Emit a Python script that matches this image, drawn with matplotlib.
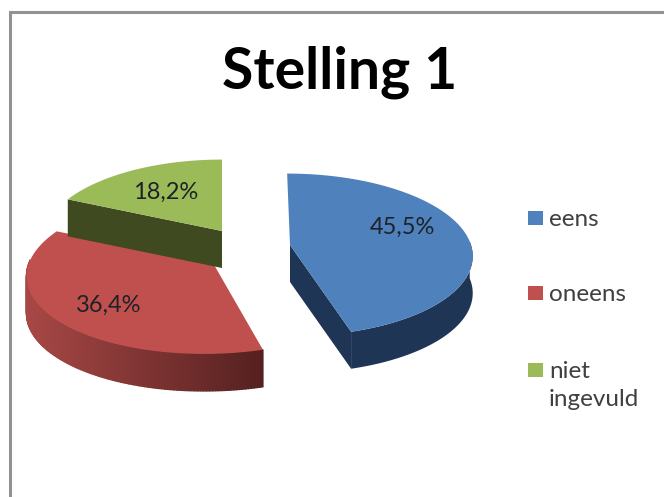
import numpy as np
import matplotlib
matplotlib.use('Agg')
import matplotlib.pyplot as plt
from matplotlib.patches import Polygon, Rectangle

plt.rcParams['font.family'] = ['Lato', 'DejaVu Sans']

# chart data
title = 'Stelling 1'
categories = ['eens', 'oneens', 'niet\ningevuld']
percentages = [45.5, 36.4, 18.2]
value_labels = ['45,5%', '36,4%', '18,2%']

top_colors = ['#4F81BD', '#C0504D', '#9BBB59']
wall_colors = ['#1F3556', '#A54644', '#3F4A20']

# layout, in image pixels
APEX = [(290, 245), (213, 263), (222, 231)]
RX = [181, 184, 178]
SKEW = [0.04, -0.1, 0.0]
LABEL_POS = [(402, 227), (109, 305), (166, 192)]
LEGEND_Y = [218, 293, 370]
DEPTH = 37
RY, PERSP = 80, 0.12


def project(i, theta):
    # theta in radians, clockwise from 12 o'clock
    u, v = np.sin(theta), np.cos(theta)
    w = 1 + PERSP * v
    dy = -RY * v / w
    return APEX[i][0] + RX[i] * u / w + SKEW[i] * dy, APEX[i][1] + dy


def draw_slice(ax, i, start, end):
    apex = APEX[i]
    thetas = np.linspace(start, end, 160)
    xs, ys = project(i, thetas)
    zo = 3 if i == 0 else 2 + i * 0.1

    # only the front part of the rim can be seen
    front = np.cos(thetas) < 0.05
    fx, fy = xs[front], ys[front]
    if i == 1:
        # red wall goes from lighter on the left to almost brown on the right
        c0 = np.array(matplotlib.colors.to_rgb('#A84846'))
        c1 = np.array(matplotlib.colors.to_rgb('#552120'))
        for k in range(len(fx) - 1):
            quad = [(fx[k], fy[k]), (fx[k + 1], fy[k + 1]),
                    (fx[k + 1], fy[k + 1] + DEPTH), (fx[k], fy[k] + DEPTH)]
            t = np.clip((fx[k] - 25) / (263 - 25), 0, 1)
            color = tuple(c0 + (c1 - c0) * t)
            ax.add_patch(Polygon(quad, closed=True, facecolor=color, edgecolor=color, lw=1.0, zorder=zo))
    elif len(fx) > 1:
        wall = list(zip(fx, fy)) + list(zip(fx[::-1], fy[::-1] + DEPTH))
        ax.add_patch(Polygon(wall, closed=True, facecolor=wall_colors[i], edgecolor='none', zorder=zo))

    # cut faces that look towards the viewer
    if i == 0:
        face = [apex, (xs[-1], ys[-1]), (xs[-1], ys[-1] + DEPTH), (apex[0], apex[1] + DEPTH)]
        ax.add_patch(Polygon(face, closed=True, facecolor=wall_colors[0], edgecolor='none', zorder=zo))
    if i == 2:
        face = [apex, (xs[0], ys[0]), (xs[0], ys[0] + DEPTH), (apex[0], apex[1] + DEPTH)]
        ax.add_patch(Polygon(face, closed=True, facecolor=wall_colors[2], edgecolor='none', zorder=zo))

    top = [apex] + list(zip(xs, ys))
    ax.add_patch(Polygon(top, closed=True, facecolor=top_colors[i], edgecolor='none', zorder=zo + 0.05))


fig = plt.figure(figsize=(6.64, 4.97), dpi=100)
ax = fig.add_axes([0, 0, 1, 1])
ax.set_xlim(0, 664)
ax.set_ylim(497, 0)
ax.axis('off')

# chart frame, only left and top are visible in the image
ax.plot([10, 10, 664], [497, 11.5, 11.5], color='#929292', lw=2.2, solid_joinstyle='miter')

ax.text(340, 72, title, fontsize=41, fontweight='bold', color='black', ha='center', va='center')

fractions = np.array(percentages) / sum(percentages)
edges = np.concatenate([[0], np.cumsum(fractions)]) * 2 * np.pi

for i in [2, 1, 0]:
    draw_slice(ax, i, edges[i], edges[i + 1])

for i, txt in enumerate(value_labels):
    ax.text(LABEL_POS[i][0], LABEL_POS[i][1], txt, fontsize=17, color='#1E2228', ha='center', va='center', zorder=5)

for i, cat in enumerate(categories):
    ax.add_patch(Rectangle((528, LEGEND_Y[i] - 7), 15, 14, facecolor=top_colors[i], edgecolor='none'))
    ax.text(549, LEGEND_Y[i] - 9, cat, fontsize=17.5, color='#404040', ha='left', va='top', linespacing=1.42)

fig.savefig('out.png', dpi=100)
